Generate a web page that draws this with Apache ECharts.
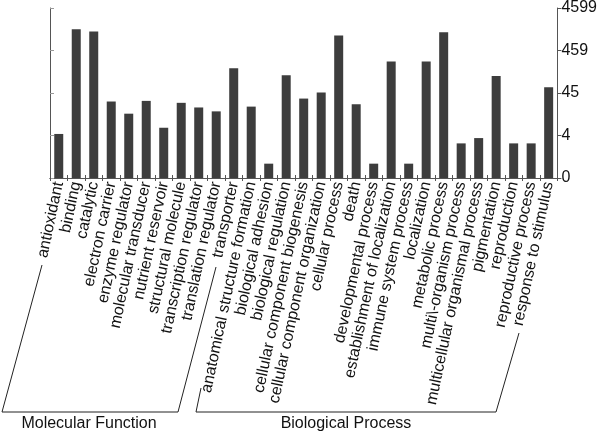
<!DOCTYPE html>
<html>
<head>
<meta charset="utf-8">
<script src="https://cdn.jsdelivr.net/npm/echarts@6/dist/echarts.min.js"></script>
<style>
html,body{margin:0;padding:0;background:#fff;}
#chart{width:600px;height:434px;}
</style>
</head>
<body>
<div id="chart"></div>
<script>
var categories = [
  "antioxidant", "binding", "catalytic", "electron carrier", "enzyme regulator",
  "molecular transducer", "nutrient reservoir", "structural molecule",
  "transcription regulator", "translation regulator", "transporter",
  "anatomical structure formation", "biological adhesion", "biological regulation",
  "cellular component biogenesis", "cellular component organization",
  "cellular process", "death", "developmental process",
  "establishment of localization", "immune system process", "localization",
  "metabolic process", "multi\\-organism process", "multicellular organismal process",
  "pigmentation", "reproduction", "reproductive process", "response to stimulus"
];
var counts = [5, 1454, 1283, 29, 15, 30, 7, 27, 21, 17, 175, 22, 1, 120, 34, 47,
  1035, 25, 1, 255, 1, 255, 1239, 3, 4, 116, 3, 3, 63];
var tickLabels = ["0", "4", "45", "459", "4599"];
var axisBase = 0.4599; // value at the bottom of the log axis (labelled "0")
var groupNames = ["Molecular Function", "Biological Process"];

var logged = counts.map(function (v) { return Math.log10(v / axisBase); });

var FONT = '"Liberation Sans", Arial, sans-serif';
var lineCol = '#555';
var chart = echarts.init(document.getElementById('chart'), null, {renderer: 'canvas'});
chart.setOption({
  animation: false,
  grid: {left: 50, right: 40, top: 8, bottom: 256},
  xAxis: [{
    type: 'category', data: categories, position: 'bottom', boundaryGap: true,
    axisLine: {show: true, lineStyle: {color: lineCol, width: 1}},
    axisTick: {show: true, inside: true, length: 3, interval: 0, lineStyle: {color: lineCol}},
    axisLabel: {interval: 0, rotate: 78, fontSize: 16, fontFamily: FONT, color: '#111', margin: 4}
  }, {
    type: 'category', data: categories, position: 'top', boundaryGap: true,
    axisLine: {show: true, lineStyle: {color: lineCol, width: 1}},
    axisTick: {show: true, inside: true, length: 3, interval: 0, lineStyle: {color: lineCol}},
    axisLabel: {show: false}
  }],
  yAxis: [{
    type: 'value', position: 'right', min: 0, max: 4, interval: 1,
    axisLine: {show: true, lineStyle: {color: lineCol, width: 1}},
    axisTick: {show: true, inside: false, length: 4, lineStyle: {color: lineCol}},
    splitLine: {show: false},
    axisLabel: {fontSize: 16, fontFamily: FONT, color: '#111', margin: 4,
      formatter: function (v) { return tickLabels[Math.round(v)]; }}
  }, {
    type: 'value', position: 'left', min: 0, max: 4, interval: 1,
    axisLine: {show: true, lineStyle: {color: lineCol, width: 1}},
    axisTick: {show: true, inside: true, length: 4, lineStyle: {color: '#999'}},
    splitLine: {show: false},
    axisLabel: {show: false}
  }],
  series: [{
    type: 'bar', xAxisIndex: 0, yAxisIndex: 0, data: logged, barWidth: 9,
    itemStyle: {color: '#3d3d3d'}
  }],
  graphic: [
    {type: 'polyline', shape: {points: [[42, 265], [2, 412], [178, 412], [216, 267]]},
     style: {stroke: '#222', lineWidth: 1, fill: null}},
    {type: 'polyline', shape: {points: [[201, 388], [196, 412], [496, 412], [519, 333]]},
     style: {stroke: '#222', lineWidth: 1, fill: null}},
    {type: 'text', x: 89, y: 424, style: {text: groupNames[0], font: '16px ' + FONT,
      fill: '#111', textAlign: 'center', textVerticalAlign: 'middle'}},
    {type: 'text', x: 346, y: 424, style: {text: groupNames[1], font: '16px ' + FONT,
      fill: '#111', textAlign: 'center', textVerticalAlign: 'middle'}}
  ]
});
</script>
</body>
</html>
